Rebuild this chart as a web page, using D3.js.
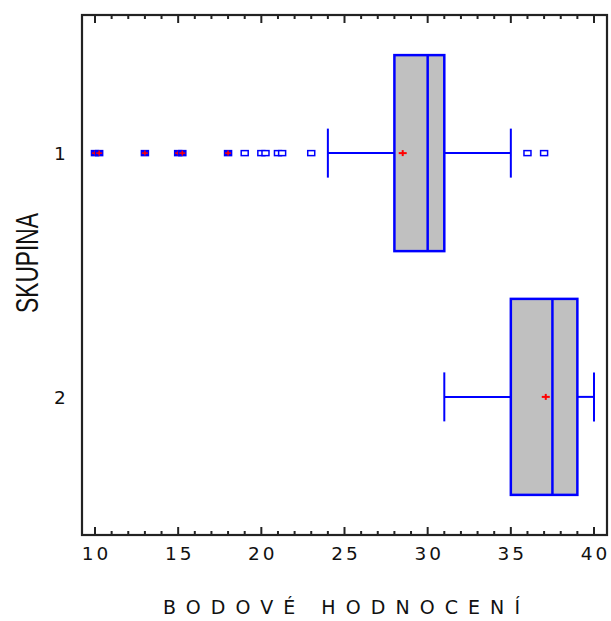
<!DOCTYPE html>
<html><head><meta charset="utf-8">
<script src="https://cdn.jsdelivr.net/npm/d3@7"></script>
<style>body{margin:0;background:#fff}svg{display:block}</style>
</head><body>
<script>
// Data
const groups = ["1", "2"];
const q1 = [28, 35];
const median = [30, 37.5];
const q3 = [31, 39];
const whiskerLow = [24, 31];
const whiskerHigh = [35, 40];
const means = [28.5, 37.1];
const outliers = [
  [10, 10.25, 13, 15, 15.25, 18, 19, 20, 20.25, 21, 21.25, 23, 36, 37],
  []
];
const xTicks = [10, 15, 20, 25, 30, 35, 40];
const xTitle = "BODOVÉ HODNOCENÍ";
const yTitle = "SKUPINA";

const W = 611, H = 621;
const svg = d3.select("body").append("svg").attr("width", W).attr("height", H);
const frame = {l: 82, r: 607, t: 15, b: 535};

const x = d3.scaleLinear().domain([10, 40]).range([95, 594]);
const y = d3.scalePoint().domain(groups).range([frame.t, frame.b]).padding(0.5666);
const boxH = 196, capH = 49;
const blue = "#0000ff", red = "#ff0000";
const font = "Liberation Sans, Arial, sans-serif";
const wide = "DejaVu Sans, Verdana, sans-serif";

// frame
svg.append("rect").attr("x", frame.l).attr("y", frame.t)
  .attr("width", frame.r - frame.l).attr("height", frame.b - frame.t)
  .attr("fill", "none").attr("stroke", "#222").attr("stroke-width", 2.2);

// ticks (bottom & top, inward)
const minor = d3.range(10, 40.001, 1);
const gT = svg.append("g").attr("stroke", "#222").attr("stroke-width", 2);
minor.forEach(v => {
  const major = v % 5 === 0;
  const len = major ? 8 : 4;
  gT.append("line").attr("x1", x(v)).attr("x2", x(v)).attr("y1", frame.b).attr("y2", frame.b - len);
  gT.append("line").attr("x1", x(v)).attr("x2", x(v)).attr("y1", frame.t).attr("y2", frame.t + len);
});

// tick labels
svg.append("g").selectAll("text").data(xTicks).join("text")
  .attr("x", d => x(d)).attr("y", 560)
  .attr("text-anchor", "middle")
  .attr("font-family", wide)
  .attr("font-size", 18.5).attr("letter-spacing", 3)
  .attr("dx", 1.5)
  .attr("fill", "#111")
  .text(d => d);

svg.append("g").selectAll("text").data(groups).join("text")
  .attr("x", 60).attr("y", d => y(d) + 7)
  .attr("text-anchor", "middle")
  .attr("font-family", wide)
  .attr("font-size", 18.5)
  .attr("fill", "#111")
  .text(d => d);

// axis titles
svg.append("text").attr("x", 163).attr("y", 614)
  .attr("font-family", wide)
  .attr("font-size", 19)
  .attr("fill", "#111")
  .attr("textLength", 357).attr("lengthAdjust", "spacing")
  .text(xTitle);

svg.append("text")
  .attr("transform", "translate(38,263) rotate(-90)")
  .attr("text-anchor", "middle")
  .attr("font-family", font)
  .attr("font-size", 31)
  .attr("fill", "#111")
  .attr("textLength", 100).attr("lengthAdjust", "spacingAndGlyphs")
  .text(yTitle);

// boxes
groups.forEach((g, i) => {
  const cy = y(g);
  const G = svg.append("g");
  // whiskers
  G.append("line").attr("x1", x(whiskerLow[i])).attr("x2", x(q1[i])).attr("y1", cy).attr("y2", cy)
    .attr("stroke", blue).attr("stroke-width", 2);
  G.append("line").attr("x1", x(q3[i])).attr("x2", x(whiskerHigh[i])).attr("y1", cy).attr("y2", cy)
    .attr("stroke", blue).attr("stroke-width", 2);
  [whiskerLow[i], whiskerHigh[i]].forEach(v => {
    G.append("line").attr("x1", x(v)).attr("x2", x(v)).attr("y1", cy - capH / 2).attr("y2", cy + capH / 2)
      .attr("stroke", blue).attr("stroke-width", 2);
  });
  // box
  G.append("rect").attr("x", x(q1[i])).attr("y", cy - boxH / 2)
    .attr("width", x(q3[i]) - x(q1[i])).attr("height", boxH)
    .attr("fill", "#c0c0c0").attr("stroke", blue).attr("stroke-width", 2.5);
  G.append("line").attr("x1", x(median[i])).attr("x2", x(median[i]))
    .attr("y1", cy - boxH / 2).attr("y2", cy + boxH / 2)
    .attr("stroke", blue).attr("stroke-width", 2.5);
  // mean
  const mx = x(means[i]);
  G.append("line").attr("x1", mx - 4).attr("x2", mx + 4).attr("y1", cy).attr("y2", cy).attr("stroke", red).attr("stroke-width", 2);
  G.append("line").attr("x1", mx).attr("x2", mx).attr("y1", cy - 3).attr("y2", cy + 3).attr("stroke", red).attr("stroke-width", 2);
  // outliers
  const iqr = q3[i] - q1[i];
  outliers[i].forEach(v => {
    const far = v < q1[i] - 3 * iqr || v > q3[i] + 3 * iqr;
    const ox = x(v);
    G.append("rect").attr("x", ox - 3.5).attr("y", cy - 2.5).attr("width", 7).attr("height", 5)
      .attr("fill", far ? blue : "#fff").attr("stroke", blue).attr("stroke-width", 1.5);
    if (far) {
      G.append("line").attr("x1", ox - 3).attr("x2", ox + 3).attr("y1", cy).attr("y2", cy).attr("stroke", red).attr("stroke-width", 1.5);
      G.append("line").attr("x1", ox).attr("x2", ox).attr("y1", cy - 2.5).attr("y2", cy + 2.5).attr("stroke", red).attr("stroke-width", 1.5);
    }
  });
});
</script>
</body></html>
